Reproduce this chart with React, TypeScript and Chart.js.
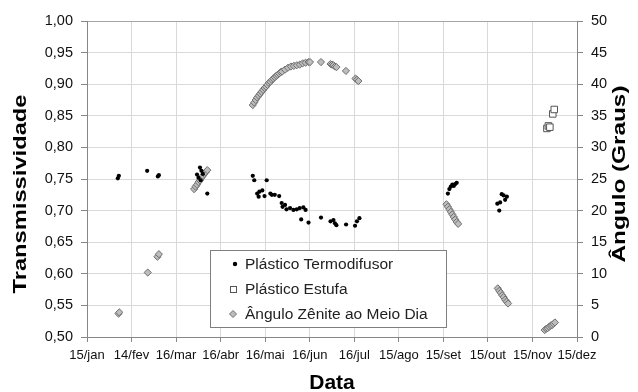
import React, { useEffect, useRef } from 'react';
import { Chart, registerables } from 'chart.js';

Chart.register(...registerables);

// X axis: day of year, 15/jan (15) to 15/dez (349)
const xTickLabels = ['15/jan', '14/fev', '16/mar', '16/abr', '16/mai', '16/jun', '16/jul', '15/ago', '15/set', '15/out', '15/nov', '15/dez'];
const xMin = 15;
const xMax = 349;

// Plástico Termodifusor (transmissividade)
const termoDias = [
  36, 36.7, 56, 63.3, 64,
  90, 91, 92, 92.5, 93, 94, 97,
  128, 129, 137.5, 131, 132.5, 134.5, 132, 140, 141, 143, 146, 136,
  147.7, 148.3, 150, 151, 153.4, 155.7, 158, 160, 162.5, 164, 161, 166,
  174.5, 181, 183, 184, 185, 191.6, 197.7, 199, 200.7,
  261, 262, 263, 264, 265, 266, 267,
  294.7, 296.6, 297.7, 300, 301.2, 299, 296,
];
const termoTransm = [
  0.751, 0.755, 0.763, 0.754, 0.756,
  0.757, 0.752, 0.768, 0.748, 0.763, 0.758, 0.727,
  0.755, 0.748, 0.748, 0.727, 0.730, 0.732, 0.722, 0.727, 0.725, 0.725, 0.723, 0.723,
  0.712, 0.706, 0.709, 0.702, 0.704, 0.701, 0.702, 0.704, 0.705, 0.701, 0.686, 0.681,
  0.689, 0.683, 0.685, 0.680, 0.677, 0.678, 0.676, 0.683, 0.688,
  0.727, 0.734, 0.738, 0.741, 0.739, 0.742, 0.744,
  0.711, 0.713, 0.726, 0.717, 0.722, 0.724, 0.700,
];

// Plástico Estufa (transmissividade)
const estufaDias = [328.5, 329.5, 330.5, 332.5, 333.5];
const estufaTransm = [0.830, 0.834, 0.832, 0.853, 0.860];

// Ângulo Zênite ao Meio Dia (graus)
const zenDias = [
  36.5, 37, 56.4, 63, 64,
  88, 89, 90, 91, 92, 93, 94, 95, 96, 97,
  128, 129, 130, 131, 132, 133, 134, 135, 136, 137, 138, 139, 140, 141, 142, 143, 144, 145, 146, 147, 148,
  150, 152, 154, 156, 158, 160, 162, 164, 166, 167,
  174.5, 181, 182, 183, 184, 185, 191.5, 198, 199, 200,
  260, 261, 262, 263, 264, 265, 266, 267, 268,
  295, 296, 297, 298, 299, 300, 301, 302,
  327, 328, 329, 330, 331, 332, 333, 334,
];
const zenAngulo = [
  3.7, 3.9, 10.2, 12.7, 13.1,
  23.4, 23.8, 24.1, 24.5, 24.8, 25.2, 25.5, 25.8, 26.1, 26.4,
  36.7, 37.1, 37.5, 37.9, 38.2, 38.5, 38.8, 39.1, 39.4, 39.6, 39.9, 40.2, 40.4, 40.7, 40.9, 41.1, 41.3, 41.5, 41.7, 41.9, 42.0,
  42.3, 42.6, 42.8, 42.9, 43.0, 43.1, 43.3, 43.4, 43.5, 43.5,
  43.5, 43.2, 43.1, 43.0, 42.8, 42.7, 42.1, 40.9, 40.7, 40.5,
  21.0, 20.6, 20.2, 19.8, 19.4, 19.0, 18.6, 18.2, 17.9,
  7.7, 7.3, 7.0, 6.6, 6.3, 5.9, 5.6, 5.3,
  1.1, 1.3, 1.4, 1.6, 1.8, 1.9, 2.1, 2.3,
];

const seriesNames = ['Plástico Termodifusor', 'Plástico Estufa', 'Ângulo Zênite ao Meio Dia'];
const leftTitle = 'Transmissividade';
const rightTitle = 'Ângulo (Graus)';
const bottomTitle = 'Data';

const FONT = '"Liberation Sans", Arial, Helvetica, sans-serif';
const AXIS = '#868686';
const GRID = '#d9d9d9';

const pairs = (xs: number[], ys: number[]) => xs.map((x, i) => ({ x, y: ys[i] }));

function drawVerticalTitle(ctx: CanvasRenderingContext2D, text: string, cx: number, cy: number, length: number) {
  ctx.save();
  ctx.font = `bold 18px ${FONT}`;
  const w = ctx.measureText(text).width;
  ctx.translate(cx, cy);
  ctx.rotate(-Math.PI / 2);
  ctx.scale(length / w, 1);
  ctx.fillText(text, 0, 0);
  ctx.restore();
}

const overlayPlugin = {
  id: 'overlay',
  afterDraw(chart: any) {
    const { ctx, chartArea: ca } = chart;
    ctx.save();
    ctx.fillStyle = '#000';
    ctx.textAlign = 'center';
    ctx.textBaseline = 'middle';
    drawVerticalTitle(ctx, leftTitle, ca.left - 66, ca.top + 173, 199);
    drawVerticalTitle(ctx, rightTitle, ca.right + 43, ca.top + 153, 177);
    ctx.font = `bold 21px ${FONT}`;
    ctx.fillText(bottomTitle, (ca.left + ca.right) / 2, ca.bottom + 46);

    // legend box
    const lx = ca.left + 123;
    const ly = ca.top + 229;
    const lw = 236;
    const lh = 77;
    ctx.fillStyle = '#fff';
    ctx.fillRect(lx, ly, lw, lh);
    ctx.strokeStyle = '#7f7f7f';
    ctx.lineWidth = 1;
    ctx.strokeRect(lx + 0.5, ly + 0.5, lw, lh);

    const rows = [ly + 14, ly + 39, ly + 64];
    const sx = lx + 23;
    // dot
    ctx.fillStyle = '#000';
    ctx.beginPath();
    ctx.arc(sx + 2, rows[0], 2.2, 0, Math.PI * 2);
    ctx.fill();
    // square
    ctx.fillStyle = '#fff';
    ctx.strokeStyle = '#555';
    ctx.fillRect(sx - 3, rows[1] - 3, 7, 7);
    ctx.strokeRect(sx - 3 + 0.5, rows[1] - 3 + 0.5, 6, 6);
    // diamond
    ctx.fillStyle = '#bdbdbd';
    ctx.strokeStyle = '#6e6e6e';
    ctx.beginPath();
    ctx.moveTo(sx - 3.5, rows[2]);
    ctx.lineTo(sx, rows[2] - 3.5);
    ctx.lineTo(sx + 3.5, rows[2]);
    ctx.lineTo(sx, rows[2] + 3.5);
    ctx.closePath();
    ctx.fill();
    ctx.stroke();

    ctx.fillStyle = '#222';
    ctx.font = `15.5px ${FONT}`;
    ctx.textAlign = 'left';
    seriesNames.forEach((n, i) => ctx.fillText(n, lx + 35, rows[i] + 1));
    ctx.restore();
  },
};

export default function App() {
  const ref = useRef<HTMLCanvasElement | null>(null);

  useEffect(() => {
    document.body.style.margin = '0';
    if (!ref.current) return;
    const chart = new Chart(ref.current, {
      type: 'scatter',
      data: {
        datasets: [
          {
            label: seriesNames[0],
            data: pairs(termoDias, termoTransm),
            yAxisID: 'y',
            pointStyle: 'circle',
            pointRadius: 2.1,
            pointBackgroundColor: '#000',
            pointBorderColor: '#000',
            pointBorderWidth: 0,
          },
          {
            label: seriesNames[1],
            data: pairs(estufaDias, estufaTransm),
            yAxisID: 'y',
            pointStyle: 'rect',
            pointRadius: 4.6,
            pointBackgroundColor: '#fff',
            pointBorderColor: '#555',
            pointBorderWidth: 1,
          },
          {
            label: seriesNames[2],
            data: pairs(zenDias, zenAngulo),
            yAxisID: 'y1',
            pointStyle: 'rectRot',
            pointRadius: 3.6,
            pointBackgroundColor: '#bdbdbd',
            pointBorderColor: '#6e6e6e',
            pointBorderWidth: 1,
          },
        ],
      },
      options: {
        animation: false,
        responsive: false,
        devicePixelRatio: 1,
        layout: { padding: { top: 21, left: 0, right: 0, bottom: 0 } },
        plugins: {
          legend: { display: false },
          tooltip: { enabled: false },
          title: { display: false },
        },
        scales: {
          x: {
            type: 'linear',
            position: 'bottom',
            min: xMin,
            max: xMax,
            afterBuildTicks: (s: any) => {
              s.ticks = xTickLabels.map((_, i) => ({ value: xMin + (i * (xMax - xMin)) / (xTickLabels.length - 1) }));
            },
            afterFit: (s: any) => {
              s.height = 55;
            },
            ticks: {
              autoSkip: false,
              maxRotation: 0,
              minRotation: 0,
              padding: 6,
              color: '#111',
              font: { family: FONT, size: 13 },
              callback: (_v: any, i: number) => xTickLabels[i],
            },
            grid: {
              color: (c: any) => (c.index === 0 || c.index === xTickLabels.length - 1 ? AXIS : GRID),
              tickColor: AXIS,
              tickLength: 5,
              lineWidth: 1,
            },
            border: { color: AXIS, width: 1 },
          },
          y: {
            position: 'left',
            min: 0.5,
            max: 1.0,
            afterFit: (s: any) => {
              s.width = 87;
            },
            ticks: {
              stepSize: 0.05,
              padding: 8,
              color: '#111',
              font: { family: FONT, size: 14.5 },
              callback: (v: any) => Number(v).toFixed(2).replace('.', ','),
            },
            grid: {
              color: (c: any) => {
                const v = c.tick ? c.tick.value : 0;
                if (Math.abs(v - 0.5) < 1e-6) return AXIS;
                if (Math.abs(v - 1) < 1e-6) return '#a6a6a6';
                return GRID;
              },
              tickColor: AXIS,
              tickLength: 6,
              lineWidth: 1,
            },
            border: { color: AXIS, width: 1 },
          },
          y1: {
            position: 'right',
            min: 0,
            max: 50,
            afterFit: (s: any) => {
              s.width = 61;
            },
            ticks: {
              stepSize: 5,
              padding: 8,
              color: '#111',
              font: { family: FONT, size: 14.5 },
            },
            grid: {
              drawOnChartArea: false,
              tickColor: AXIS,
              tickLength: 6,
            },
            border: { color: AXIS, width: 1 },
          },
        },
      },
      plugins: [overlayPlugin],
    });
    return () => chart.destroy();
  }, []);

  return (
    <div style={{ width: 638, height: 392 }}>
      <canvas ref={ref} width={638} height={392} style={{ display: 'block' }} />
    </div>
  );
}
